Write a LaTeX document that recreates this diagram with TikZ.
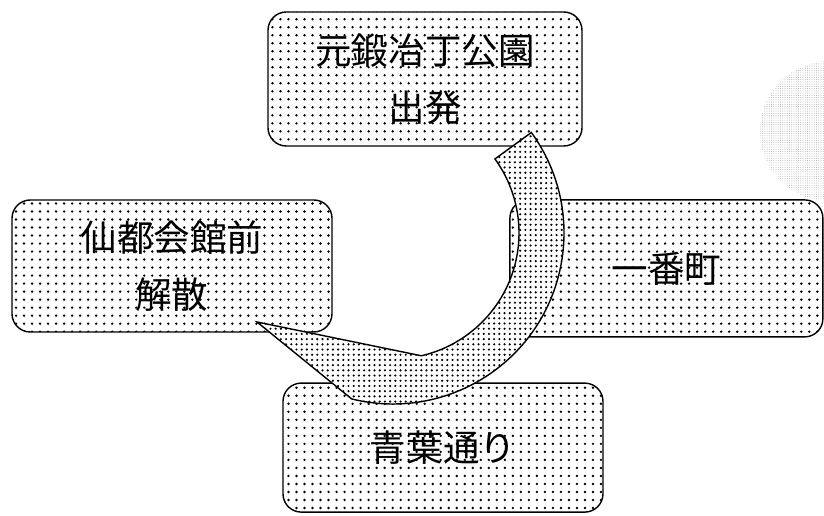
\documentclass[tikz,border=0pt]{standalone}
\usepackage{fontspec}
\newfontfamily\jpfont{Noto Sans CJK JP}
\usetikzlibrary{patterns.meta,calc}

\begin{document}
\begin{tikzpicture}[
	station/.style={draw, line width=1pt, rounded corners=13pt, preaction={fill=white},
		pattern={Dots[distance=5.7pt,radius=0.95pt]}, align=center, inner sep=0pt,
		font=\jpfont\fontsize{26}{41}\selectfont},
	turn/.style={draw, line width=1pt, preaction={fill=white},
		pattern={Dots[distance=3.7pt,radius=0.85pt]}}
]
	\useasboundingbox (0,0) rectangle (20.6,12.9);
	\fill[pattern={Dots[distance=1.6pt,radius=0.3pt]}, pattern color=gray!70] (20.75,9.62) circle [radius=1.75];
	\node[station, minimum width=7.85cm, minimum height=3.35cm] (start) at (10.625,10.925) {元鍛冶丁公園\\出発};
	\node[station, minimum width=7.825cm, minimum height=3.425cm] (ichiban) at (16.66,6.19) {一番町};
	\node[station, minimum width=8cm, minimum height=3.225cm] (aoba) at (11.075,1.71) {青葉通り};
	\node[station, minimum width=8cm, minimum height=3.3cm] (sento) at (4.3,6.25) {仙都会館前\\解散};
	\coordinate (hub) at (9.825,7.075);
	\coordinate (tip) at (6.425,4.85);
	\draw[turn] ($(hub)+(36:4.275)$) arc [start angle=36, end angle=-104, radius=4.275]
		-- (tip) -- ($(hub)+(-77:3.15)$) arc [start angle=-77, end angle=36, radius=3.15] -- cycle;
\end{tikzpicture}
\end{document}
